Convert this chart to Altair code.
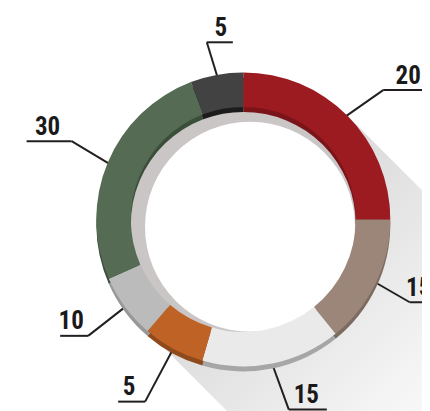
import math
import altair as alt
import pandas as pd

# ---------------- data ----------------
segments = ["a", "b", "c", "d", "e", "f", "g"]          # clockwise from 12 o'clock
labels = ["20", "15", "15", "5", "10", "30", "5"]        # printed values
shares = [25.0, 14.2, 15.3, 6.8, 7.1, 25.8, 5.8]         # arc sizes (% of the ring)

# ---------------- styles / layout ----------------
palette = ["#9b1b20", "#9c8679", "#eaeaea", "#bf6226", "#bbbbbb", "#566b53", "#424242"]
rim_palette = ["#7b1419", "#7d6b61", "#a6a6a6", "#8f4a1c", "#989898", "#3b4e39", "#1c1c1c"]
leader_dir = [55, 120, 160, 208, 232, 301, 343]   # degrees, clockwise from up
leader_len = [43, 38, 48, 59, 46, 41, 33]
underline_len = [50, 40, 38, 27, 28, 45, 26]
label_off = [25, 9, 17.5, 16, 17, 24, 14]

W, H = 414, 403
CX, CY = 235.3, 211.4          # ring centre inside the plot area (pixels)
R_OUT, R_IN = 147, 112.5
RIM = 5
FONT = "Roboto Condensed"

xs = alt.Scale(domain=[-CX, W - CX], nice=False, zero=False)
ys = alt.Scale(domain=[-(H - CY), CY], nice=False, zero=False)

ring = pd.DataFrame({
    "seg": segments, "share": shares, "idx": list(range(len(segments))),
    "col": palette, "rim": rim_palette,
})

# leader lines and labels derived from the shares
total = sum(shares)
cum = 0.0
lines, texts = [], []
for lab, sh, ang, ln, ul, off in zip(labels, shares, leader_dir, leader_len,
                                     underline_len, label_off):
    mid = (cum + sh / 2) / total * 2 * math.pi
    cum += sh
    phi = math.radians(ang)
    px, py = (R_OUT + 1) * math.sin(mid), (R_OUT + 1) * math.cos(mid)
    sx, sy = px - 8 * math.sin(phi), py - 8 * math.cos(phi)
    ex, ey = px + ln * math.sin(phi), py + ln * math.cos(phi)
    side = 1 if math.sin(phi) > -0.4 else -1
    lines.append({"x": sx, "y": sy, "x2": ex, "y2": ey})
    lines.append({"x": ex, "y": ey, "x2": ex + side * ul, "y2": ey})
    texts.append({"x": ex + side * off, "y": ey + 6.5, "label": lab})
lines = pd.DataFrame(lines)
texts = pd.DataFrame(texts)
one = pd.DataFrame({"k": [0]})


def X(v):
    return alt.X(datum=v, type="quantitative", scale=xs, axis=None)


def Y(v):
    return alt.Y(datum=v, type="quantitative", scale=ys, axis=None)


L = 320
shadow = alt.Chart(one).mark_rule(
    strokeWidth=2 * R_OUT, strokeCap="butt",
    stroke=alt.LinearGradient(
        gradient="linear", x1=0, y1=0, x2=1, y2=1,
        stops=[alt.GradientStop(color="#d9d9d9", offset=0),
               alt.GradientStop(color="#e2e2e2", offset=0.18),
               alt.GradientStop(color="#f7f7f7", offset=0.56),
               alt.GradientStop(color="#ffffff", offset=1)]),
).encode(x=X(0), y=Y(0), x2=alt.X2(datum=L), y2=alt.Y2(datum=-L))

leaders = alt.Chart(lines).mark_rule(color="#231f20", strokeWidth=2).encode(
    x=alt.X("x:Q", scale=xs, axis=None), y=alt.Y("y:Q", scale=ys, axis=None),
    x2="x2:Q", y2="y2:Q")

inner_shadow = alt.Chart(one).mark_arc(
    theta=0, theta2=2 * math.pi, innerRadius=0, outerRadius=R_IN + 2, color="#c9c6c5"
).encode(x=X(0), y=Y(0))

floor = alt.Chart(one).mark_arc(
    theta=0, theta2=2 * math.pi, innerRadius=0, outerRadius=105, color="#ffffff"
).encode(x=X(6.7), y=Y(-7.3))

rim = alt.Chart(ring).mark_arc(outerRadius=R_OUT, innerRadius=R_IN).encode(
    theta=alt.Theta("share:Q", stack=True),
    order=alt.Order("idx:Q"),
    color=alt.Color("rim:N", scale=None),
    x=X(0), y=Y(-RIM))

donut = alt.Chart(ring).mark_arc(outerRadius=R_OUT, innerRadius=R_IN).encode(
    theta=alt.Theta("share:Q", stack=True),
    order=alt.Order("idx:Q"),
    color=alt.Color("col:N", scale=None),
    x=X(0), y=Y(0))

text = alt.Chart(texts).mark_text(
    font=FONT, fontSize=25, fontWeight="bold", color="#1a1a1a",
    align="center", baseline="alphabetic"
).encode(x=alt.X("x:Q", scale=xs, axis=None), y=alt.Y("y:Q", scale=ys, axis=None),
         text="label:N")

chart = alt.layer(shadow, leaders, inner_shadow, floor, rim, donut, text).properties(
    width=W, height=H, padding=0, autosize=alt.AutoSizeParams(type="none"),
    background="white",
).configure_view(stroke=None)

chart.save("out.html", embed_options={"renderer": "svg", "actions": False})
